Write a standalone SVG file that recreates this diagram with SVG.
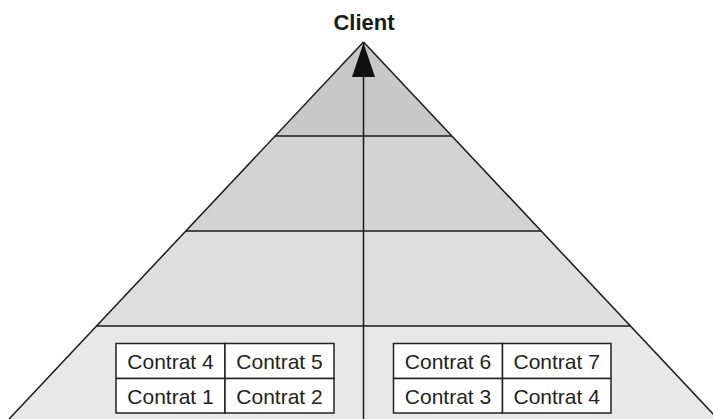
<svg xmlns="http://www.w3.org/2000/svg" width="713" height="419" viewBox="0 0 713 419">
<style>
.edge{stroke:#1a1a1a;stroke-width:1.5;fill:none}
.cell{fill:#ffffff;stroke:#222;stroke-width:1.5}
.lbl{font-family:"Liberation Sans",Arial,sans-serif;font-size:21px;fill:#222;text-anchor:middle}
.title{font-family:"Liberation Sans",Arial,sans-serif;font-size:22px;font-weight:bold;fill:#1a1a1a;text-anchor:middle}
</style>
<defs>
<marker id="arr" markerUnits="userSpaceOnUse" markerWidth="34" markerHeight="23" refX="34" refY="11.5" orient="auto" viewBox="0 0 34 23">
<path d="M0,0 L34,11.5 L0,23 Z" fill="#111"/>
</marker>
</defs>
<rect width="713" height="419" fill="#ffffff"/>
<g id="pyramid">
<polygon points="363.5,42 275.1,136 451.9,136" fill="#c8c8c8"/>
<polygon points="275.1,136 451.9,136 541.1,231 185.9,231" fill="#d3d3d3"/>
<polygon points="185.9,231 541.1,231 630.4,326 96.6,326" fill="#dedede"/>
<polygon points="96.6,326 630.4,326 717.9,419 9.1,419" fill="#e8e8e8"/>
<line class="edge" x1="363.5" y1="42" x2="9.1" y2="419"/>
<line class="edge" x1="363.5" y1="42" x2="717.9" y2="419"/>
<line class="edge" x1="275.1" y1="136" x2="451.9" y2="136"/>
<line class="edge" x1="185.9" y1="231" x2="541.1" y2="231"/>
<line class="edge" x1="96.6" y1="326" x2="630.4" y2="326"/>
</g>
<g id="connectors">
<line class="edge" x1="363.5" y1="419" x2="363.5" y2="43" marker-end="url(#arr)"/>
</g>
<g id="client">
<text class="title" x="364" y="30">Client</text>
</g>
<g id="left-contracts">
<rect class="cell" x="116" y="343.5" width="109" height="35"/>
<rect class="cell" x="225" y="343.5" width="109" height="35"/>
<rect class="cell" x="116" y="378.5" width="109" height="34.5"/>
<rect class="cell" x="225" y="378.5" width="109" height="34.5"/>
<text class="lbl" x="170.5" y="368.5">Contrat 4</text>
<text class="lbl" x="279.5" y="368.5">Contrat 5</text>
<text class="lbl" x="170.5" y="403.5">Contrat 1</text>
<text class="lbl" x="279.5" y="403.5">Contrat 2</text>
</g>
<g id="right-contracts">
<rect class="cell" x="393.5" y="343.5" width="109" height="35"/>
<rect class="cell" x="502.5" y="343.5" width="108.5" height="35"/>
<rect class="cell" x="393.5" y="378.5" width="109" height="34.5"/>
<rect class="cell" x="502.5" y="378.5" width="108.5" height="34.5"/>
<text class="lbl" x="448" y="368.5">Contrat 6</text>
<text class="lbl" x="556.7" y="368.5">Contrat 7</text>
<text class="lbl" x="448" y="403.5">Contrat 3</text>
<text class="lbl" x="556.7" y="403.5">Contrat 4</text>
</g>
</svg>
